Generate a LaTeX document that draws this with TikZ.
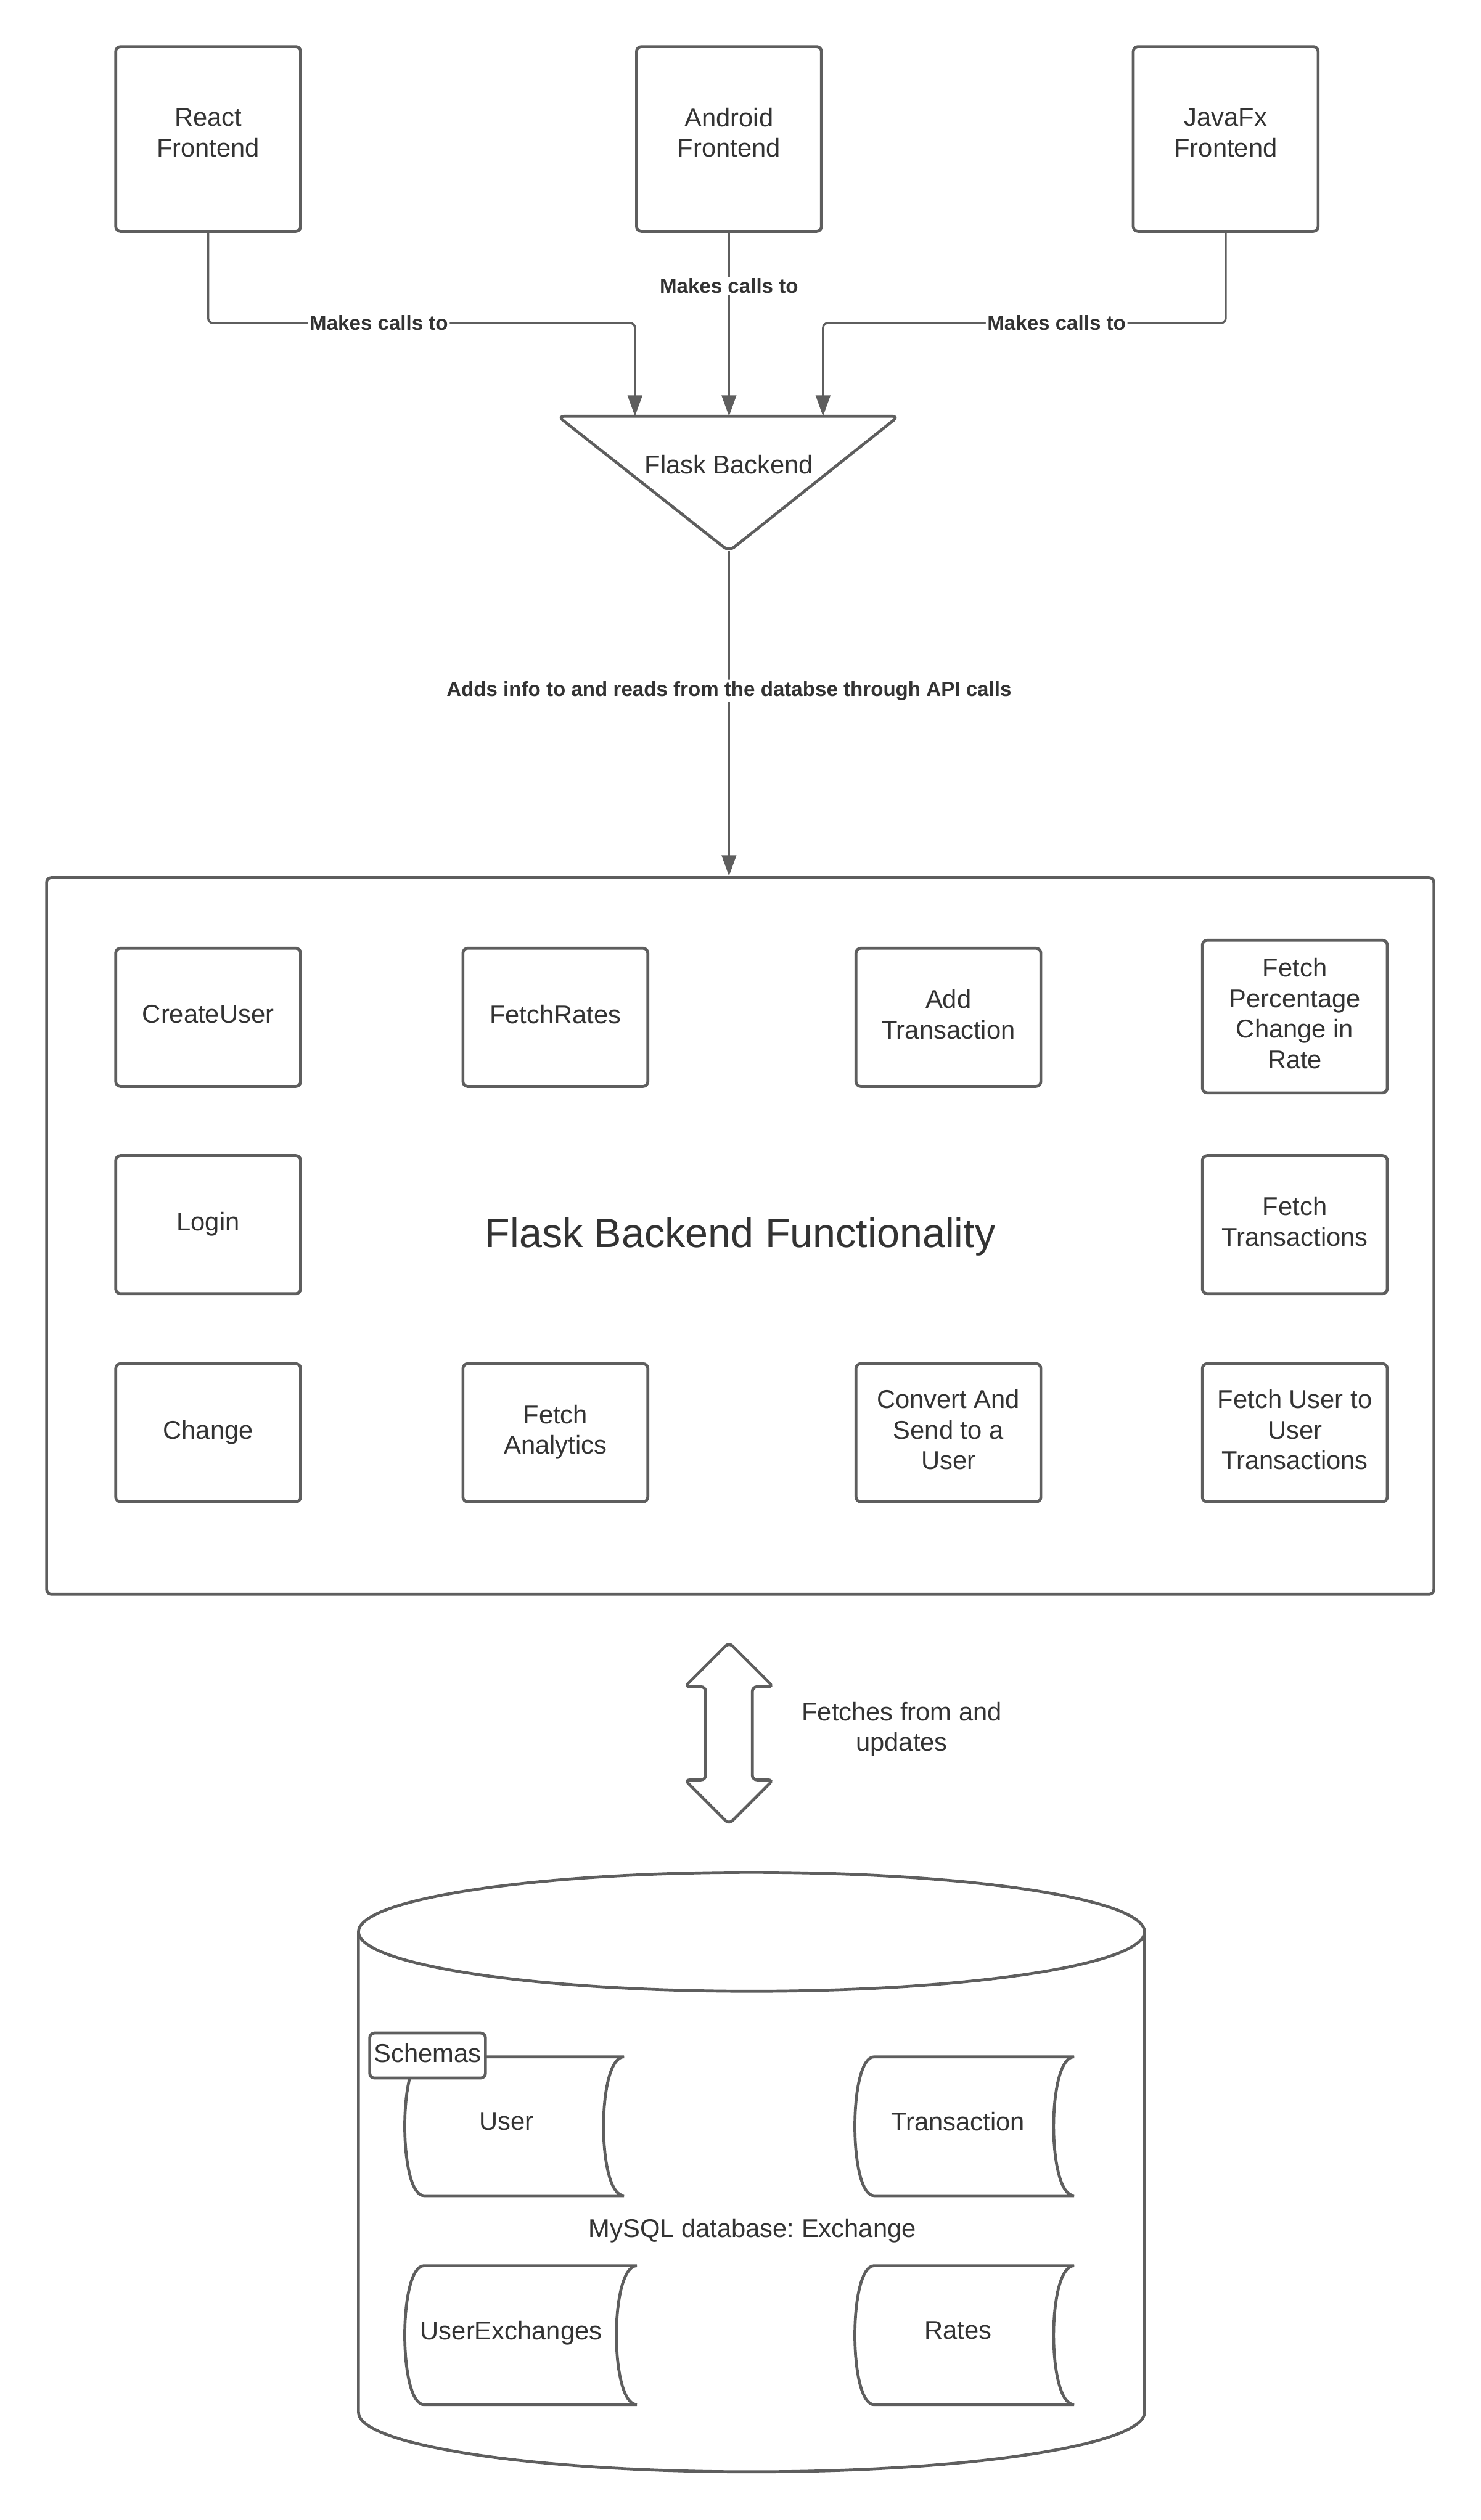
\documentclass[tikz,border=0pt]{standalone}
\usepackage{fontspec}
\setmainfont{Liberation Sans}
\frenchspacing
\usetikzlibrary{arrows.meta}
\definecolor{linegray}{HTML}{5E5E5E}
\definecolor{textgray}{HTML}{333333}

\begin{document}
\begin{tikzpicture}[x=1pt, y=-1pt,
    font=\fontsize{16}{19}\selectfont, text=textgray,
    box/.style={draw=linegray, line width=1.8pt, rounded corners=3pt, minimum width=115pt, minimum height=86pt, align=center, text depth=4pt},
    conn/.style={draw=linegray, line width=1.3pt, rounded corners=3pt, -{Triangle[length=13pt,width=9pt]}},
    lbl/.style={fill=white, font=\fontsize{12.7}{15}\selectfont\bfseries, inner sep=1pt},
    shape line/.style={draw=linegray, line width=1.8pt},
    store/.style={minimum width=136pt, minimum height=86pt, text depth=6pt}]
    \useasboundingbox (0,0) rectangle (921,1568);

    % clients
    \node [box, minimum height=115pt, text depth=8pt] (react) at (129.5,86.5) {React\\Frontend};
    \node [box, minimum height=115pt, text depth=8pt] (android) at (453.5,86.5) {Android\\Frontend};
    \node [box, minimum height=115pt, text depth=8pt] (javafx) at (762.5,86.5) {JavaFx\\Frontend};

    % backend
    \coordinate (triL) at (347,259);
    \coordinate (triR) at (559,259);
    \coordinate (apex) at (453.5,343);
    \coordinate (inL) at (395,259);
    \coordinate (inR) at (512,259);
    \coordinate (callrow) at (453.5,201);
    \draw [shape line, rounded corners=4pt] (triL) -- (triR) -- (apex) -- cycle;
    \node (flask) at (453.5,289) {Flask Backend};

    \draw [conn] (react.south) |- node [lbl, pos=.7] {Makes calls to} (inL |- callrow) -- (inL);
    \draw [conn] (android.south) -- node [lbl, pos=.29] {Makes calls to} (android.south |- triL);
    \draw [conn] (javafx.south) |- node [lbl, pos=.71] {Makes calls to} (inR |- callrow) -- (inR);

    % functionality
    \node [box, minimum width=863pt, minimum height=446pt, text depth=4pt, font=\fontsize{25.5}{30}\selectfont] (func) at (460.5,769) {Flask Backend Functionality};
    \draw [conn] (apex) -- node [lbl, pos=.43] {Adds info to and reads from the databse through API calls} (apex |- func.north);

    \node [box] (createuser) at (129.5,633) {CreateUser};
    \node [box] (fetchrates) at (345.5,633) {FetchRates};
    \node [box] (addtx) at (590,633) {Add\\Transaction};
    \node [box, minimum height=95pt] (fetchpct) at (805.5,632.5) {Fetch\\Percentage\\Change in\\Rate};
    \node [box] (login) at (129.5,762) {Login};
    \node [box] (fetchtx) at (805.5,762) {Fetch\\Transactions};
    \node [box] (change) at (129.5,891.5) {Change};
    \node [box] (analytics) at (345.5,891.5) {Fetch\\Analytics};
    \node [box] (convert) at (590,891.5) {Convert And\\Send to a\\User};
    \node [box] (usertx) at (805.5,891.5) {Fetch User to\\User\\Transactions};

    % database link
    \coordinate (sync) at (453.5,1078.5);
    \draw [shape line, rounded corners=3pt, shift={(sync)}] (0,-56.5) -- (27.5,-29) -- (14.5,-29) -- (14.5,29) -- (27.5,29)
        -- (0,56.5) -- (-27.5,29) -- (-14.5,29) -- (-14.5,-29) -- (-27.5,-29) -- cycle;
    \node [align=center] (synclbl) at (561,1076) {Fetches from and\\updates};

    % database
    \draw [shape line] (467.5,1202) ellipse [x radius=244.5, y radius=37];
    \draw [shape line] (223,1202) -- (223,1501) arc [start angle=180, end angle=0, x radius=244.5, y radius=37] -- (712,1202);
    \node (db) at (468,1388) {MySQL database: Exchange};

    \node [store] (user) at (315,1323) {User};
    \node [store] (trans) at (596,1323) {Transaction};
    \node [store, minimum width=144pt] (userex) at (318,1453) {UserExchanges};
    \node [store] (rates) at (596,1453) {Rates};
    \foreach \s/\d in {user/5pt,trans/4pt,userex/6pt,rates/4pt}
        \draw [shape line] ([xshift=12pt+\d]\s.north west) -- ([xshift=\d]\s.north east)
            .. controls ([xshift=-17pt+\d]\s.north east) and ([xshift=-17pt+\d]\s.south east) .. ([xshift=\d]\s.south east)
            -- ([xshift=12pt+\d]\s.south west)
            .. controls ([xshift=-4pt+\d]\s.south west) and ([xshift=-4pt+\d]\s.north west) .. ([xshift=12pt+\d]\s.north west);
    \node [draw=linegray, line width=1.8pt, fill=white, rounded corners=3pt, minimum width=72pt, minimum height=28pt, inner sep=1pt, text depth=3pt] (schemas) at (266,1279) {Schemas};
\end{tikzpicture}
\end{document}
